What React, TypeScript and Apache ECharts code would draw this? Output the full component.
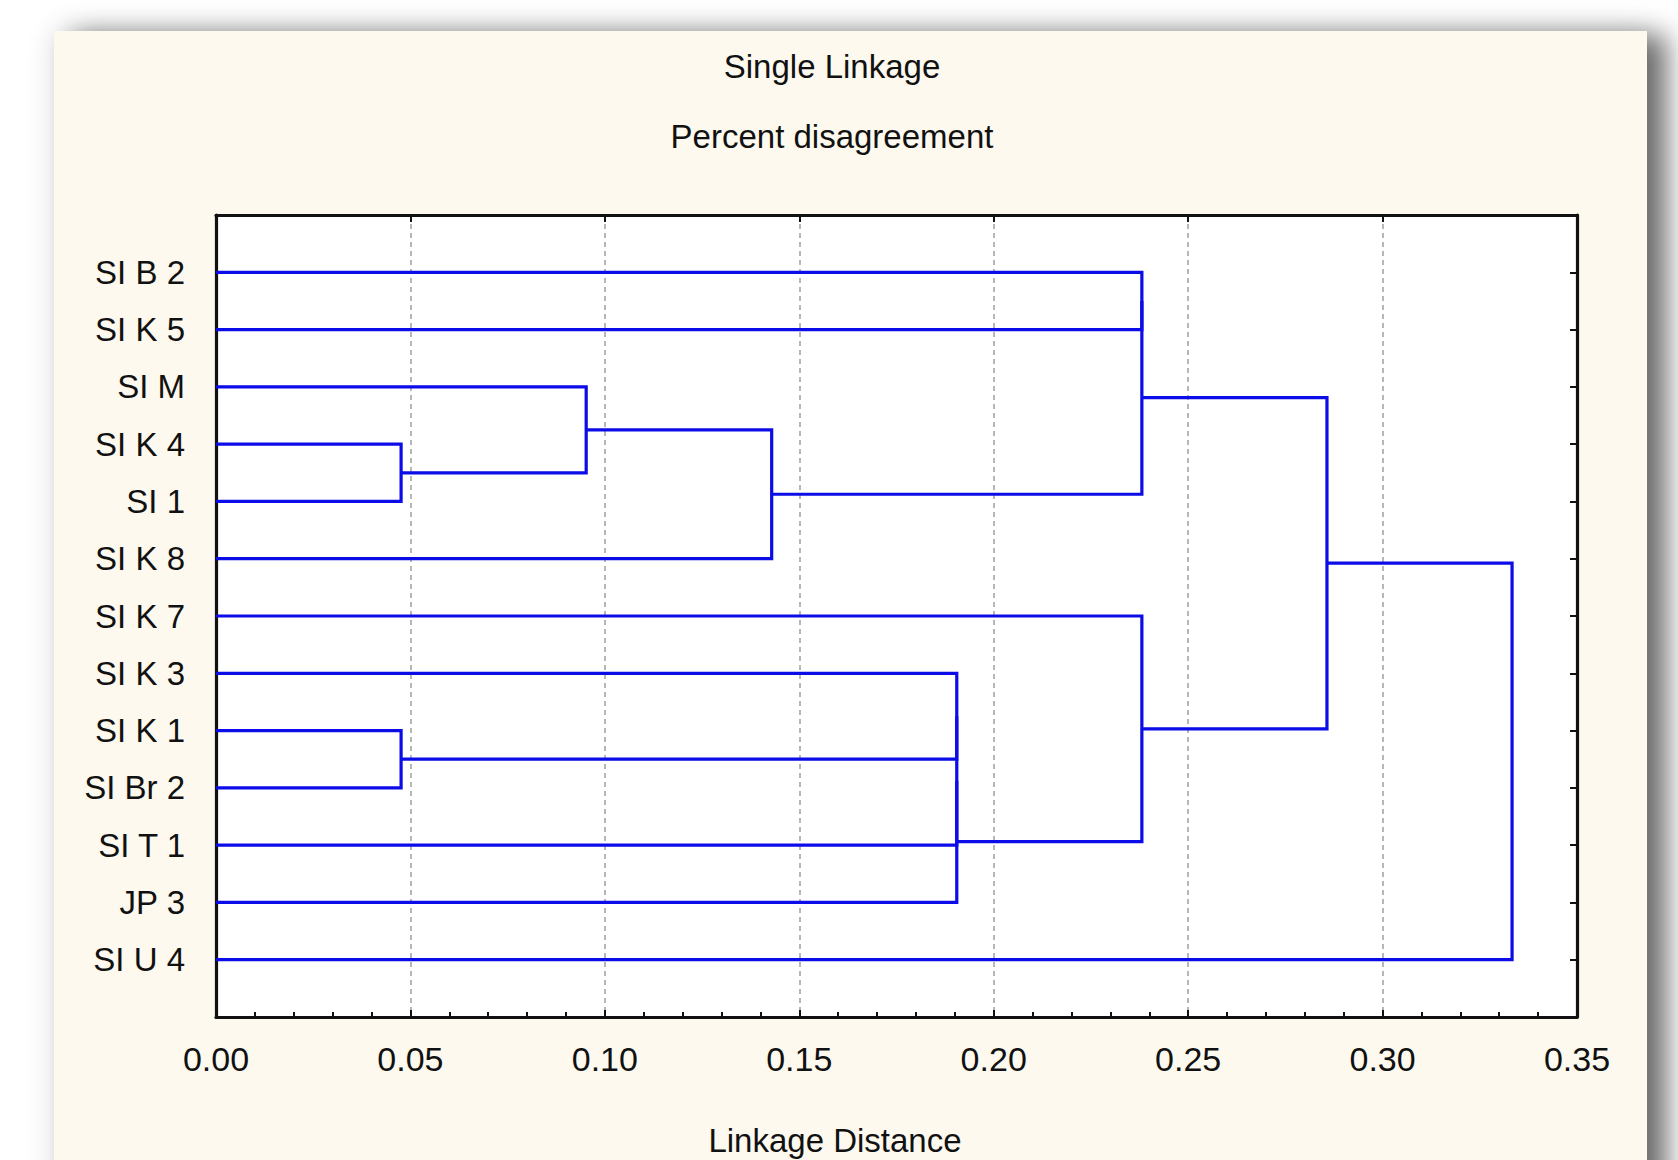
import React, { useEffect, useRef } from "react";
import * as echarts from "echarts";

// Leaves of the dendrogram, top to bottom
const leaves = [
  "SI B 2",
  "SI K 5",
  "SI M",
  "SI K 4",
  "SI 1",
  "SI K 8",
  "SI K 7",
  "SI K 3",
  "SI K 1",
  "SI Br 2",
  "SI T 1",
  "JP 3",
  "SI U 4",
];

// Merge steps: ids 0..12 are leaves, each merge creates id 13, 14, ...
const mergeLeft = [3, 8, 2, 15, 7, 17, 18, 0, 20, 6, 21, 23];
const mergeRight = [4, 9, 13, 5, 14, 10, 11, 1, 16, 19, 22, 12];
const mergeHeight = [
  0.0476, 0.0476, 0.0952, 0.1429, 0.1905, 0.1905, 0.1905, 0.2381, 0.2381,
  0.2381, 0.2857, 0.3333,
];

const xTicks = [0, 0.05, 0.1, 0.15, 0.2, 0.25, 0.3, 0.35];

const titleText = "Single Linkage";
const subtitleText = "Percent disagreement";
const xAxisName = "Linkage Distance";

const FONT = "'Liberation Sans', Arial, sans-serif";
const TEXT_COLOR = "#111111";

function buildSegments() {
  const nodeX: number[] = leaves.map(() => 0);
  const nodeY: number[] = leaves.map((_, i) => i + 1);
  const data: number[][] = [];
  for (let i = 0; i < mergeLeft.length; i++) {
    const a = mergeLeft[i];
    const b = mergeRight[i];
    const h = mergeHeight[i];
    data.push([nodeX[a], nodeY[a], nodeX[b], nodeY[b], h]);
    nodeX.push(h);
    nodeY.push((nodeY[a] + nodeY[b]) / 2);
  }
  return data;
}

function textEl(text: string, x: number, y: number) {
  return {
    type: "text",
    x,
    y,
    style: {
      text,
      fontSize: 33,
      fontFamily: FONT,
      fill: TEXT_COLOR,
      align: "center",
      verticalAlign: "middle",
      textAlign: "center",
      textVerticalAlign: "middle",
    },
  };
}

export default function App() {
  const ref = useRef<HTMLDivElement>(null);

  useEffect(() => {
    if (!ref.current) return;
    const chart = echarts.init(ref.current, undefined, { renderer: "svg" });
    const segs = buildSegments();
    const lineColor = "#0c0ce8";
    const axisColor = "#111";

    const option: any = {
      animation: false,
      backgroundColor: "transparent",
      grid: {
        left: 216,
        top: 215,
        width: 1361,
        height: 802,
        show: true,
        backgroundColor: "#ffffff",
        borderWidth: 0,
      },
      xAxis: [
        {
          type: "value",
          position: "bottom",
          min: 0,
          max: 0.35,
          interval: 0.05,
          axisLine: { show: true, onZero: false, lineStyle: { color: axisColor, width: 3.2 } },
          axisTick: { show: true, inside: true, length: 7, lineStyle: { color: axisColor, width: 2 } },
          minorTick: { show: true, splitNumber: 5, length: 5, lineStyle: { color: axisColor, width: 2 } },
          splitLine: {
            show: true,
            lineStyle: { color: "#a0a0a0", width: 1.5, type: [5, 4] },
          },
          axisLabel: {
            show: true,
            margin: 25,
            fontSize: 34,
            fontFamily: FONT,
            color: TEXT_COLOR,
            formatter: (v: number) => {
              const t = xTicks.find((k) => Math.abs(k - v) < 1e-9);
              return t === undefined ? "" : t.toFixed(2);
            },
          },
        },
        {
          type: "value",
          position: "top",
          min: 0,
          max: 0.35,
          interval: 0.05,
          axisLine: { show: true, onZero: false, lineStyle: { color: axisColor, width: 3.2 } },
          axisTick: { show: true, inside: true, length: 7, lineStyle: { color: axisColor, width: 2 } },
          splitLine: { show: false },
          axisLabel: { show: false },
        },
      ],
      yAxis: [
        {
          type: "value",
          position: "left",
          inverse: true,
          min: 0,
          max: 14,
          interval: 1,
          axisLine: { show: true, onZero: false, lineStyle: { color: axisColor, width: 3.2 } },
          axisTick: { show: true, inside: true, length: 7, lineStyle: { color: axisColor, width: 2 } },
          splitLine: { show: false },
          axisLabel: {
            show: true,
            margin: 31,
            fontSize: 33,
            fontFamily: FONT,
            color: TEXT_COLOR,
            formatter: (v: number) => leaves[Math.round(v) - 1] ?? "",
          },
        },
        {
          type: "value",
          position: "right",
          inverse: true,
          min: 0,
          max: 14,
          interval: 1,
          axisLine: { show: true, onZero: false, lineStyle: { color: axisColor, width: 3.2 } },
          axisTick: { show: true, inside: true, length: 7, lineStyle: { color: axisColor, width: 2 } },
          splitLine: { show: false },
          axisLabel: { show: false },
        },
      ],
      graphic: [
        textEl(titleText, 832, 66),
        textEl(subtitleText, 832, 136),
        textEl(xAxisName, 835, 1140),
      ],
      series: [
        {
          type: "custom",
          xAxisIndex: 0,
          yAxisIndex: 0,
          clip: false,
          encode: { x: [0, 2, 4], y: [1, 3] },
          data: segs,
          renderItem: (params: any, api: any) => {
            const x1 = api.value(0);
            const y1 = api.value(1);
            const x2 = api.value(2);
            const y2 = api.value(3);
            const h = api.value(4);
            const p1 = api.coord([x1, y1]);
            const p2 = api.coord([h, y1]);
            const p3 = api.coord([h, y2]);
            const p4 = api.coord([x2, y2]);
            return {
              type: "polyline",
              shape: { points: [p1, p2, p3, p4] },
              style: { stroke: lineColor, lineWidth: 3.2, fill: null, lineJoin: "miter" },
            };
          },
        },
      ],
    };

    chart.setOption(option);
    return () => chart.dispose();
  }, []);

  return (
    <div
      style={{
        position: "absolute",
        left: 0,
        top: 0,
        width: 1678,
        height: 1160,
        overflow: "hidden",
        background: "#ffffff",
      }}
    >
      <div
        style={{
          position: "absolute",
          left: 54,
          top: 31,
          width: 1593,
          height: 1200,
          background: "#fdf9ef",
          boxShadow: "20px 4px 26px rgba(0,0,0,0.55), 0 0 28px rgba(0,0,0,0.12)",
        }}
      />
      <div
        ref={ref}
        style={{ position: "absolute", left: 0, top: 0, width: 1678, height: 1160 }}
      />
    </div>
  );
}
